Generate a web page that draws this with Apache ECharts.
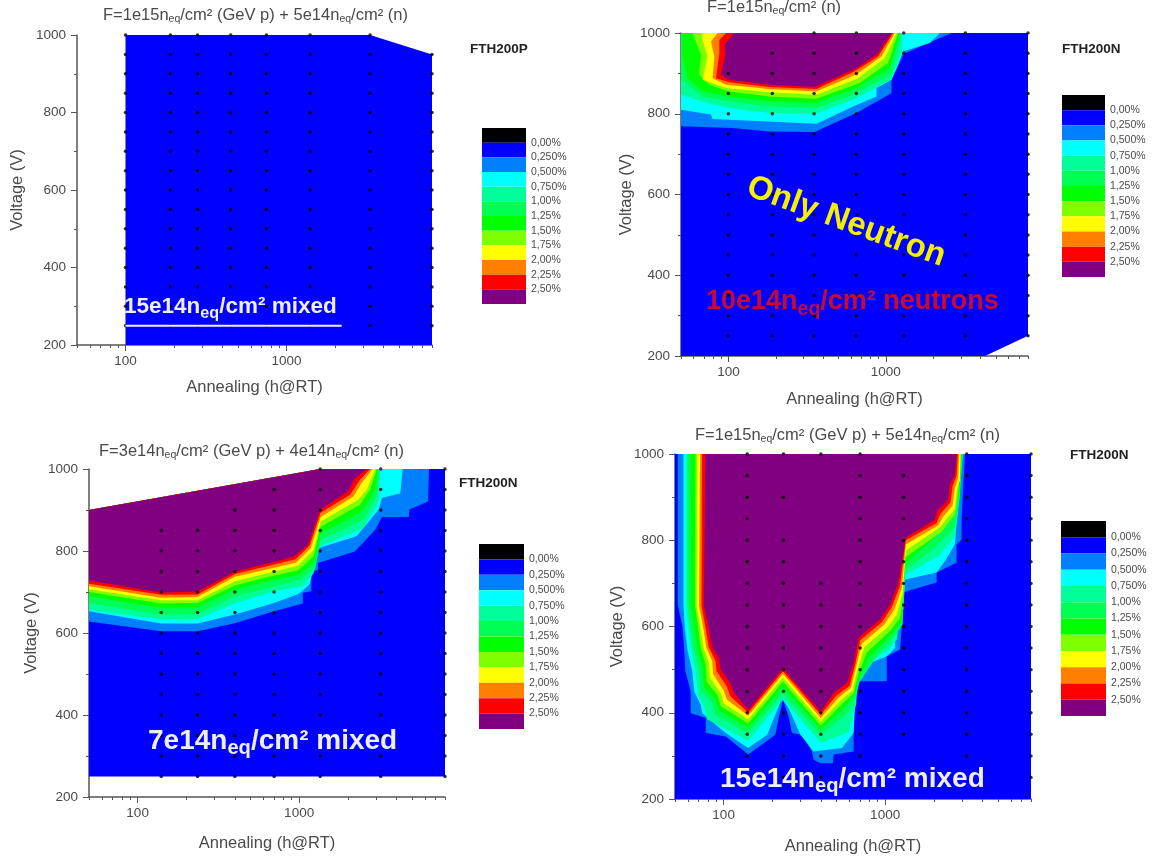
<!DOCTYPE html>
<html><head><meta charset="utf-8">
<style>html,body{margin:0;padding:0;background:#fff}#c{width:1155px;height:863px;filter:blur(0.7px)}</style>
<script src="https://cdn.jsdelivr.net/npm/echarts@6/dist/echarts.min.js"></script>
</head><body><div id="c"></div>
<script>
const bandColors=['#000000','#0000ff','#0080ff','#00ffff','#00ff99','#00ff55','#00ff00','#80ff00','#ffff00','#ff8000','#ff0000','#800080'];
const legendLabels=['0,00%','0,250%','0,500%','0,750%','1,00%','1,25%','1,50%','1,75%','2,00%','2,25%','2,50%'];
const legendLevels=[-0.25,0,0.25,0.5,0.75,1,1.25,1.5,1.75,2,2.25,2.5,2.75];
const xMajor=[100,1000];
const xMinor=[50,60,70,80,90,200,300,400,500,600,700,800,900,2000,3000,4000,5000,6000,7000,8000];
const rows=[250,300,350,400,450,500,550,600,650,700,750,800,850,900,950,1000];

// Panel 1
const P1_base=[[100,1000],[3300,1000],[8000,950],[8000,200],[100,200]];
const P1_dots=[[100,rows],[190,rows],[280,rows],[450,rows],[750,rows],[1400,rows],[3300,rows],[8000,rows.slice(0,15)]];
const P1_line=[[100,250],[2200,250]];

// Panel 2
const P2_base=[[50,200],[4270,200],[8000,250],[8000,1000],[50,1000]];
const P2_L1=[[50,1000],[50,769],[106.6,765],[182,756],[353,755],[650,802],[1086,851],[1086,884],[1277,942],[1321,950],[2620,1000]];
const P2_L2=[[50,1000],[50,810],[77.5,798],[79.4,787],[362,775],[620,818],[872,843],[872,864],[1086,884],[1170,913],[1290,955],[1905,975],[2208,1000]];
const P2_L3=[[50,1000],[50,847],[67,831],[101,814],[182,802],[362,800],[620,835],[1086,884],[1259,950],[1277,1000]];
const P2_L4=[[50,1000],[50,884],[68.6,843],[101,831],[182,818],[362,814],[620,847],[1086,897],[1259,1000]];
const P2_L5=[[51,1000],[51,942],[55,888],[68.6,855],[101,843],[182,831],[362,827],[650,864],[1060,913],[1228,1000]];
const P2_L6=[[59,1000],[67,946],[65,897],[75.6,872],[101,855],[182,843],[362,837],[683,876],[1034,926],[1199,1000]];
const P2_L7=[[68.6,1000],[68,988],[73.8,942],[68.6,884],[96.7,864],[182,853],[362,847],[666,888],[985,938],[1170,1000]];
const P2_L8=[[85.5,1000],[77.5,979],[81.4,942],[79.4,888],[96.7,872],[182,861],[362,855],[650,897],[938,942],[1140,1000]];
const P2_L9=[[96.7,1000],[87.6,983],[87.6,950],[83.4,888],[101,878],[182,866],[362,861],[635,905],[893,942],[1113,1000]];
const P2_L10=[[109,1000],[94.3,971],[95.7,946],[89.8,897],[101,884],[182,872],[353,866],[650,913],[893,950],[1086,1000]];
const P2_dots=[[100,rows.slice(0,14)],[190,rows.slice(0,15)],[350,rows],[650,rows],[1300,rows],[3200,rows],[8000,rows]];

// Panel 3
const P3_base=[[50,250],[8000,250],[8000,1000],[1350,1000],[50,900]];
const P3_top=[[1350,1000],[50,900]];
const P3_L1=[[50,628],[140,604],[235,604],[400,624],[700,653],[1054,672],[1054,698],[1189,702],[1189,750],[1310,753],[1310,771],[2217,799],[2960,852],[3255,883],[4780,883],[4820,901],[6280,921],[6370,1000]];
const P3_L2=[[50,653],[140,623],[235,623],[400,645],[700,673],[1000,696],[1160,718],[1280,787],[1310,807],[2270,836],[3110,901],[3255,929],[4230,941],[4380,1000]];
const P3_L3=[[50,657],[140,633],[235,634],[400,672],[700,702],[1050,714],[1230,746],[1340,811],[2500,856],[3110,921],[3190,1000]];
const P3_L4=[[50,673],[140,645],[235,646],[400,689],[700,714],[1020,730],[1260,759],[1360,828],[2500,876],[3030,933],[3140,1000]];
const P3_L5=[[50,690],[140,661],[235,663],[400,706],[700,730],[1000,742],[1250,775],[1360,844],[2440,897],[2960,950],[3070,1000]];
const P3_L6=[[50,700],[140,672],[235,673],[400,716],[700,740],[990,753],[1230,787],[1360,859],[2380,913],[2750,950],[3030,1000]];
const P3_L7=[[50,707],[140,680],[235,680],[400,726],[700,750],[980,764],[1230,803],[1360,872],[2320,925],[2625,950],[2960,1000]];
const P3_L8=[[50,714],[140,686],[235,688],[400,737],[700,759],[960,772],[1180,807],[1360,883],[2170,933],[2440,966],[2850,1000]];
const P3_L9=[[50,720],[140,693],[235,694],[400,744],[700,767],[950,780],[1160,813],[1360,893],[2070,937],[2380,974],[2750,1000]];
const P3_L10=[[50,728],[140,699],[235,701],[400,750],[700,773],[935,787],[1133,815],[1350,901],[2016,946],[2217,978],[2625,1000]];
const P3_dots=[[140,rows.slice(0,13)],[235,rows.slice(0,13)],[400,rows.slice(0,14)],[700,rows.slice(0,15)],[1350,rows],[3200,rows],[8000,rows]];

// Panel 4
const P4_base=[[50,200],[8000,200],[8000,1000],[50,1000]];
const P4_L1=[[52,1000],[52,650],[55.6,600],[57,546],[58,496],[62.5,449],[62.5,399],[77.5,388],[77.5,353],[103,345],[142,303],[209,349],[220,390],[233,430],[253,390],[265,353],[306,349],[352,310],[361,291],[397,283],[475,283],[480,303],[638,310],[638,353],[653,473],[1024,473],[1024,531],[1238,546],[1268,600],[1268,678],[2084,702],[2084,725],[2769,748],[2769,790],[2974,802],[2974,848],[3118,1000]];
const P4_L2=[[56.4,1000],[56.4,650],[57.4,600],[59.7,546],[64,496],[65.7,449],[72,420],[73.8,399],[103,353],[142,318],[186,349],[225,425],[233,430],[253,410],[299,349],[361,310],[540,318],[638,353],[669,503],[1024,531],[1153,550],[1153,594],[1297,640],[1329,709],[2084,725],[2345,752],[2704,790],[2769,844],[3015,1000]];
const P4_L3=[[58.8,1000],[58.8,650],[60.3,600],[62.5,552],[67,495],[69.4,440],[75.6,415],[79,385],[142,335],[233,432],[399,330],[594,355],[662,420],[684,510],[1049,545],[1180,570],[1208,600],[1297,645],[1329,720],[2185,765],[2704,810],[2836,870],[3030,1000]];
const P4_L4=[[59.7,1000],[59.7,648],[62,600],[65,552],[70.5,500],[72,450],[84,425],[89,395],[142,352],[233,445],[399,348],[566,395],[653,430],[692,470],[847,520],[1153,580],[1285,605],[1297,655],[1329,730],[2084,785],[2704,830],[2905,900],[3000,1000]];
const P4_L5=[[62.5,1000],[62.5,648],[65.7,600],[68.7,552],[73.8,505],[75.6,460],[88,432],[93.5,405],[142,365],[233,460],[399,362],[553,410],[647,440],[688,480],[807,530],[1115,585],[1268,610],[1297,665],[1329,745],[1941,800],[2577,850],[2877,905],[2974,1000]];
const P4_L6=[[67,1000],[66.6,648],[69.4,600],[72,552],[77.5,510],[78.5,472],[92,440],[96,415],[142,375],[233,472],[399,370],[540,420],[638,445],[684,490],[770,540],[1075,590],[1238,620],[1297,672],[1329,760],[2237,820],[2704,860],[2836,910],[2946,1000]];
const P4_L7=[[68.7,1000],[68,648],[72,594],[75,552],[81,515],[82.3,482],[96,445],[100,422],[142,385],[233,482],[399,380],[527,428],[628,452],[675,500],[742,552],[1034,598],[1180,628],[1285,680],[1342,776],[2185,830],[2400,850],[2704,872],[2769,915],[2905,940],[2932,1000]];
const P4_L8=[[71.5,1000],[70.5,648],[75,594],[78,552],[85,520],[86,490],[100,452],[105,430],[142,393],[233,490],[399,388],[515,435],[614,458],[662,508],[718,560],[986,604],[1137,638],[1268,688],[1342,790],[2135,835],[2290,855],[2617,880],[2704,920],[2836,945],[2877,1000]];
const P4_L9=[[73.5,1000],[73,648],[77.5,594],[81,552],[89,520],[90.6,496],[105,460],[110,438],[142,400],[233,496],[399,396],[499,440],[602,462],[653,512],[701,568],[954,610],[1100,645],[1238,695],[1342,800],[2084,840],[2185,860],[2542,888],[2617,925],[2769,950],[2822,1000]];
const P4_L10=[[77,1000],[75.6,648],[81,594],[85,552],[93.5,527],[96,500],[110,469],[116,446],[142,407],[233,503],[399,403],[480,446],[580,469],[638,515],[684,574],[931,617],[1075,651],[1208,702],[1342,806],[2037,848],[2084,867],[2459,894],[2518,929],[2704,952],[2769,1000]];
const P4_dots=[[140,rows.slice(1)],[235,[250,300,350,400,450,500,550,600,650,700,750,800,900,1000]],[400,[250,300,350,400,450,500,550,600,650,700,1000]],[700,rows.slice(1,15).concat([1000])],[1300,rows.slice(2,15)],[3200,rows.slice(1)],[8000,rows]];

const panels=[
 {polys:[P1_base],grid:[77,35,432,345],dots:P1_dots,xn:42,yn:51},
 {polys:[P2_base,P2_L1,P2_L2,P2_L3,P2_L4,P2_L5,P2_L6,P2_L7,P2_L8,P2_L9,P2_L10],grid:[681,33,1028,356],dots:P2_dots,xn:43,yn:46},
 {polys:[P3_base].concat([P3_L1,P3_L2,P3_L3,P3_L4,P3_L5,P3_L6,P3_L7,P3_L8,P3_L9,P3_L10].map(l=>l.concat(P3_top))),grid:[89,469,445,797],dots:P3_dots,xn:46,yn:49},
 {polys:[P4_base,P4_L1,P4_L2,P4_L3,P4_L4,P4_L5,P4_L6,P4_L7,P4_L8,P4_L9,P4_L10],grid:[675,454,1031,799],dots:P4_dots,xn:47,yn:49}
];
const legends=[[482,128,526,304],[1062,95,1105,277],[479,544,524,729],[1061,521,1106,716]];

const grey='#4a4a4a';
const grid=[],xAxis=[],yAxis=[],series=[];
panels.forEach((p,i)=>{
  const g=p.grid;
  grid.push({left:g[0],top:g[1],width:g[2]-g[0],height:g[3]-g[1]});
  xAxis.push({type:'log',gridIndex:i,min:50,max:8000,position:'bottom',name:'Annealing (h@RT)',nameLocation:'middle',nameGap:p.xn-8,
    nameTextStyle:{fontFamily:'Liberation Sans',fontSize:16.5,color:grey},
    axisLine:{show:true,lineStyle:{color:'#555',width:1.5}},
    axisTick:{show:true,length:6,lineStyle:{color:'#555'},customValues:xMajor},
    axisLabel:{show:true,customValues:xMajor,margin:9,fontFamily:'Liberation Sans',fontSize:13.5,color:grey,formatter:v=>String(v)},
    splitLine:{show:false},minorTick:{show:false}});
  yAxis.push({type:'value',gridIndex:i,min:200,max:1000,interval:200,name:'Voltage (V)',nameLocation:'middle',nameGap:p.yn,
    nameTextStyle:{fontFamily:'Liberation Sans',fontSize:16.5,color:grey},
    axisLine:{show:true,lineStyle:{color:'#555',width:1.5}},
    axisTick:{show:true,length:6,lineStyle:{color:'#555'}},
    minorTick:{show:true,splitNumber:2,length:3,lineStyle:{color:'#555'}},
    axisLabel:{margin:11,fontFamily:'Liberation Sans',fontSize:13.5,color:grey,formatter:v=>String(v)},
    splitLine:{show:false},minorSplitLine:{show:false}});
});
panels.forEach((p,i)=>{
  xAxis.push({type:'log',gridIndex:i,min:50,max:8000,position:'bottom',
    axisLine:{show:false},axisLabel:{show:false},splitLine:{show:false},
    axisTick:{show:true,length:3,lineStyle:{color:'#555'},customValues:xMinor}});
});
legends.forEach((l,i)=>{
  grid.push({left:l[0],top:l[1],width:l[2]-l[0],height:l[3]-l[1]});
  xAxis.push({type:'value',gridIndex:4+i,min:0,max:1,show:false});
  yAxis.push({type:'value',gridIndex:4+i,min:-0.25,max:2.75,interval:0.25,inverse:true,position:'right',
    axisLine:{show:false},axisTick:{show:false},splitLine:{show:false},
    axisLabel:{margin:5,fontFamily:'Liberation Sans',fontSize:10.5,color:grey,
      formatter:v=>{const k=legendLevels.indexOf(v)-1;return k>=0&&k<legendLabels.length?legendLabels[k]:'';}}});
});
panels.forEach((p,i)=>{
  series.push({type:'custom',xAxisIndex:i,yAxisIndex:i,clip:true,z:1,silent:true,
    data:p.polys.map((_,k)=>[100,500,k]),encode:{x:0,y:1},
    renderItem:(params,api)=>{
      const k=api.value(2);
      return {type:'polygon',shape:{points:p.polys[k].map(q=>api.coord(q))},style:{fill:bandColors[k+1]}};
    }});
  const pts=[];
  p.dots.forEach(c=>c[1].forEach(v=>pts.push([c[0],v])));
  series.push({type:'scatter',xAxisIndex:i,yAxisIndex:i,data:pts,symbolSize:3.5,z:3,silent:true,clip:false,itemStyle:{color:'#000'}});
});
series.push({type:'line',xAxisIndex:0,yAxisIndex:0,data:P1_line,showSymbol:false,z:5,silent:true,lineStyle:{color:'#eef',width:2}});
legends.forEach((l,i)=>{
  series.push({type:'custom',xAxisIndex:8+i,yAxisIndex:4+i,silent:true,
    data:bandColors.map((c,k)=>[legendLevels[k],legendLevels[k+1],k]),encode:{y:[0,1]},
    renderItem:(params,api)=>{
      const a=api.coord([0,api.value(0)]),b=api.coord([1,api.value(1)]);
      return {type:'rect',shape:{x:a[0],y:a[1],width:b[0]-a[0],height:b[1]-a[1]},style:{fill:bandColors[api.value(2)]}};
    }});
});
const T=(text,x,y,o)=>Object.assign({type:'text',z:20,x:x,y:y,silent:true,rotation:o&&o.rotation||0,
  style:{text:text,x:0,y:0,align:(o&&o.align)||'left',verticalAlign:'middle',rich:o&&o.rich,fontFamily:'Liberation Sans',
  fontSize:(o&&o.size)||14,fontWeight:(o&&o.weight)||'normal',fill:(o&&o.fill)||grey}}) ;
const titleRich={a:{fontFamily:'Liberation Sans',fontSize:16.5,fill:grey},s:{fontFamily:'Liberation Sans',fontSize:10.5,fill:grey,padding:[9,0,0,0]}};
const bigRich=(size,color)=>({a:{fontFamily:'Liberation Sans',fontSize:size,fontWeight:'bold',fill:color},s:{fontFamily:'Liberation Sans',fontSize:size*0.72,fontWeight:'bold',fill:color,padding:[size*0.55,0,0,0]}});
const graphic=[
 T('{a|F=1e15n}{s|eq}{a|/cm² (GeV p) + 5e14n}{s|eq}{a|/cm² (n)}',103,15,{rich:titleRich}),
 T('{a|F=1e15n}{s|eq}{a|/cm² (n)}',707,7,{rich:titleRich}),
 T('{a|F=3e14n}{s|eq}{a|/cm² (GeV p) + 4e14n}{s|eq}{a|/cm² (n)}',99,451,{rich:titleRich}),
 T('{a|F=1e15n}{s|eq}{a|/cm² (GeV p) + 5e14n}{s|eq}{a|/cm² (n)}',695,435,{rich:titleRich}),
 T('FTH200P',470,49,{weight:'bold',fill:'#222',size:13.5}),
 T('FTH200N',1062,49,{weight:'bold',fill:'#222',size:13.5}),
 T('FTH200N',459,483,{weight:'bold',fill:'#222',size:13.5}),
 T('FTH200N',1070,455,{weight:'bold',fill:'#222',size:13.5}),
 T('{a|15e14n}{s|eq}{a|/cm² mixed}',124,307,{rich:bigRich(22.5,'#eef')}),
 T('{a|10e14n}{s|eq}{a|/cm² neutrons}',706,302,{rich:bigRich(27,'#c80a30')}),
 T('{a|7e14n}{s|eq}{a|/cm² mixed}',148,741,{rich:bigRich(28,'#eef')}),
 T('{a|15e14n}{s|eq}{a|/cm² mixed}',720,779,{rich:bigRich(28,'#eef')}),
 T('Only Neutron',748,186,{size:33,weight:'bold',fill:'#f4f000',rotation:-0.35})
];
const chart=echarts.init(document.getElementById('c'),null,{renderer:'canvas'});
chart.setOption({animation:false,backgroundColor:'#fff',grid,xAxis,yAxis,series,graphic:{elements:graphic}});
</script></body></html>
